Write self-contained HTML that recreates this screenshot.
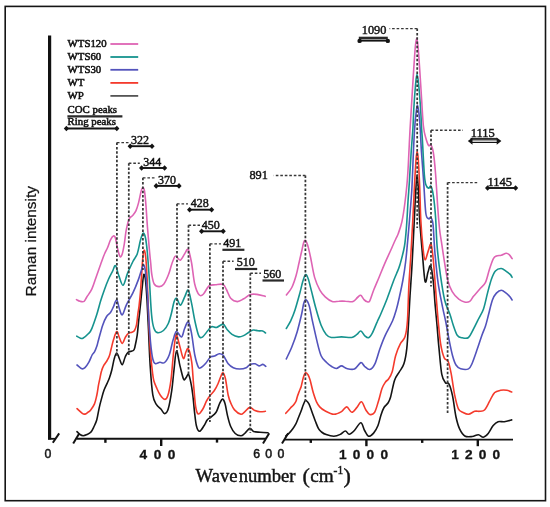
<!DOCTYPE html>
<html><head><meta charset="utf-8"><style>html,body{margin:0;padding:0;background:#fff;}svg{display:block;will-change:transform;filter:blur(0.3px);}.sr{font-family:"Liberation Serif",serif;fill:#141414;}.ss{font-family:"Liberation Sans",sans-serif;fill:#141414;}</style></head><body>
<svg width="550" height="507" viewBox="0 0 550 507">
<rect x="0" y="0" width="550" height="507" fill="#fff"/>
<rect x="5.2" y="6.4" width="540.3" height="494.3" fill="none" stroke="#151515" stroke-width="1.6"/>
<path d="M77.0,431.6C77.5,432.1 79.0,433.8 80.0,434.5C81.0,435.2 82.0,435.7 83.2,435.7C84.4,435.7 85.7,435.1 87.0,434.5C88.3,433.9 89.8,433.4 90.9,432.1C92.0,430.9 92.8,429.1 93.8,427.0C94.8,424.9 95.9,422.9 96.8,419.7C97.7,416.5 98.4,411.4 99.2,407.8C100.0,404.2 100.8,401.3 101.6,398.4C102.4,395.5 103.0,393.0 103.9,390.5C104.8,388.0 106.2,385.5 107.1,383.4C108.0,381.3 108.6,380.1 109.4,377.9C110.2,375.7 111.0,373.2 111.8,370.0C112.6,366.8 113.4,361.7 114.2,358.9C115.0,356.1 115.8,353.0 116.7,353.0C117.6,353.0 118.6,357.1 119.5,359.0C120.4,360.9 121.3,365.0 122.3,364.7C123.2,364.4 124.2,359.1 125.2,357.0C126.2,354.9 126.6,353.4 128.0,352.3C129.4,351.2 132.2,351.5 133.4,350.5C134.6,349.5 134.4,349.1 135.0,346.5C135.6,343.9 136.6,339.1 137.2,335.1C137.8,331.1 138.1,326.2 138.5,322.3C138.9,318.4 139.3,315.9 139.7,312.0C140.1,308.1 140.6,303.5 141.0,299.2C141.4,294.9 141.9,289.9 142.3,286.4C142.7,282.9 142.9,280.0 143.2,278.0C143.5,276.0 143.7,274.0 144.1,274.3C144.5,274.6 145.0,275.7 145.5,280.0C146.0,284.3 146.5,291.7 147.0,300.0C147.5,308.3 148.0,319.0 148.5,330.0C149.0,341.0 149.5,355.2 150.2,366.0C150.9,376.8 151.8,388.5 152.8,394.9C153.8,401.3 154.9,401.9 156.3,404.3C157.7,406.7 159.7,407.8 161.1,409.3C162.5,410.9 163.4,413.6 164.6,413.6C165.8,413.6 167.0,413.0 168.2,409.1C169.4,405.2 170.8,396.8 171.8,390.1C172.8,383.4 173.3,375.3 174.1,368.8C174.9,362.3 175.5,351.4 176.5,351.0C177.5,350.6 178.9,361.7 180.1,366.4C181.3,371.1 182.6,377.3 183.6,379.2C184.6,381.1 185.1,378.7 185.9,377.9C186.7,377.1 187.7,373.4 188.6,374.5C189.5,375.6 190.5,381.0 191.2,384.4C191.9,387.8 192.2,390.4 192.8,395.0C193.4,399.6 193.9,406.7 194.5,411.8C195.1,416.9 195.6,422.6 196.4,425.8C197.2,429.1 198.2,431.3 199.5,431.3C200.8,431.3 202.7,427.7 204.0,425.8C205.3,423.9 206.1,421.5 207.2,420.1C208.3,418.7 209.2,418.4 210.4,417.5C211.6,416.6 213.1,415.4 214.2,414.4C215.2,413.3 215.8,413.1 216.7,411.2C217.6,409.3 218.9,404.9 219.9,402.9C220.9,400.9 221.7,399.0 222.5,399.1C223.3,399.2 224.2,400.8 225.0,403.5C225.8,406.2 226.6,411.8 227.5,415.6C228.4,419.4 229.4,423.5 230.7,426.5C232.0,429.5 233.5,431.9 235.2,433.5C236.9,435.1 239.3,435.8 240.9,435.8C242.5,435.8 243.2,434.7 244.7,433.5C246.2,432.3 248.3,428.7 249.8,428.4C251.3,428.1 251.9,430.9 253.6,431.5C255.3,432.1 257.6,432.0 260.0,432.2C262.4,432.4 266.7,432.7 268.0,432.8" fill="none" stroke="#141414" stroke-width="1.6" stroke-linejoin="round" stroke-linecap="round"/>
<path d="M285.8,436.0C286.4,435.4 288.4,433.8 289.6,432.6C290.8,431.4 291.7,430.2 292.8,428.7C293.9,427.2 295.0,425.5 296.0,423.6C297.0,421.7 297.7,419.3 298.6,417.2C299.5,415.1 300.4,412.8 301.2,410.8C302.0,408.8 302.5,406.7 303.2,405.0C303.9,403.3 304.7,400.7 305.6,400.5C306.5,400.3 307.7,401.8 308.8,403.7C309.9,405.6 310.9,409.1 312.0,412.0C313.1,414.9 314.2,418.2 315.3,421.0C316.4,423.8 317.5,426.9 318.5,428.7C319.5,430.5 320.2,431.0 321.5,432.0C322.8,433.0 324.1,433.9 326.2,434.6C328.2,435.3 331.4,436.2 333.8,436.2C336.2,436.2 338.4,435.3 340.3,434.4C342.2,433.5 343.9,431.0 345.4,431.0C346.9,431.0 347.7,434.3 349.2,434.2C350.7,434.1 352.5,432.4 354.4,430.5C356.3,428.6 359.1,422.8 360.8,422.8C362.5,422.8 363.3,428.3 364.6,430.5C365.9,432.7 367.0,435.8 368.5,436.2C370.0,436.6 372.0,434.9 373.6,433.1C375.2,431.3 376.8,428.5 378.0,425.5C379.2,422.5 380.0,418.0 381.0,415.0C382.0,412.0 382.8,409.5 384.0,407.5C385.2,405.5 386.9,404.8 388.0,403.0C389.1,401.2 389.5,400.8 390.6,397.0C391.7,393.2 393.1,384.5 394.5,380.4C395.9,376.2 397.6,374.9 399.2,372.1C400.8,369.3 402.6,367.8 403.9,363.8C405.2,359.9 406.0,355.7 406.8,348.4C407.6,341.1 408.2,328.8 408.7,320.0C409.2,311.2 409.4,305.3 410.0,295.9C410.6,286.5 411.4,276.0 412.1,263.4C412.8,250.7 413.7,232.2 414.3,220.0C414.9,207.8 415.3,197.6 415.8,190.0C416.3,182.4 416.7,174.5 417.1,174.5C417.5,174.5 418.0,182.4 418.4,190.0C418.8,197.6 419.0,209.6 419.7,220.0C420.4,230.4 421.4,242.2 422.3,252.5C423.2,262.8 424.2,278.2 425.1,281.5C426.1,284.8 427.1,274.7 428.0,272.1C428.9,269.5 429.7,264.4 430.6,265.8C431.5,267.2 432.4,273.9 433.2,280.7C434.0,287.5 434.6,299.2 435.3,306.8C436.0,314.4 436.5,319.4 437.1,326.3C437.7,333.2 438.2,340.4 439.0,348.4C439.8,356.4 440.7,368.7 441.8,374.4C442.9,380.1 444.2,381.1 445.4,382.7C446.6,384.3 447.7,381.7 448.9,383.9C450.1,386.1 451.3,390.2 452.5,395.7C453.7,401.2 454.8,411.5 456.0,417.0C457.2,422.5 458.1,425.7 459.6,428.9C461.1,432.1 462.7,434.7 464.8,436.0C466.9,437.3 469.9,436.7 472.2,436.5C474.5,436.3 476.5,434.6 478.4,434.7C480.2,434.8 481.7,437.4 483.3,437.2C484.9,437.0 486.6,435.4 488.2,433.5C489.8,431.6 491.5,427.6 493.2,425.6C494.9,423.6 496.2,422.4 498.1,421.7C500.0,421.0 502.0,422.0 504.3,421.7C506.6,421.4 510.5,420.2 511.7,419.9" fill="none" stroke="#141414" stroke-width="1.6" stroke-linejoin="round" stroke-linecap="round"/>
<path d="M77.0,408.7C77.9,409.5 81.0,412.5 82.3,413.4C83.6,414.3 84.0,414.3 85.0,414.1C86.0,413.9 87.1,412.9 88.0,412.2C88.9,411.5 89.4,411.6 90.5,410.2C91.6,408.8 93.5,406.4 94.5,403.9C95.5,401.4 96.1,398.2 96.8,395.2C97.5,392.2 97.9,388.6 98.4,385.7C98.9,382.8 99.5,380.4 100.0,377.9C100.5,375.4 100.9,372.9 101.6,370.8C102.2,368.7 103.0,366.9 103.9,365.2C104.8,363.5 106.2,362.1 107.1,360.5C108.0,358.9 108.8,357.6 109.4,355.8C110.1,354.0 110.3,352.1 111.0,349.5C111.7,346.9 112.5,343.0 113.4,340.0C114.4,337.0 115.7,331.9 116.7,331.5C117.7,331.1 118.4,335.5 119.3,337.5C120.2,339.5 121.3,343.5 122.3,343.4C123.3,343.3 124.4,338.7 125.5,337.0C126.6,335.3 127.6,334.0 128.7,333.2C129.8,332.4 131.0,332.6 132.0,332.2C133.0,331.8 133.8,331.7 134.5,330.5C135.2,329.3 135.9,327.5 136.5,324.9C137.1,322.2 137.4,317.8 137.8,314.6C138.2,311.4 138.7,309.2 139.1,305.6C139.5,302.0 140.0,297.4 140.4,292.8C140.8,288.2 141.0,283.5 141.4,278.0C141.8,272.5 142.2,264.6 142.6,260.0C143.0,255.4 143.6,250.5 144.1,250.2C144.6,249.9 145.3,253.0 145.8,258.0C146.3,263.0 146.7,270.0 147.2,280.0C147.7,290.0 148.2,306.1 148.7,318.0C149.2,329.9 149.8,342.5 150.4,351.7C151.1,360.9 152.0,368.4 152.6,373.3C153.2,378.2 153.2,378.5 153.9,381.0C154.6,383.5 155.9,386.2 156.9,388.5C157.9,390.8 158.9,393.2 160.2,395.0C161.5,396.8 163.2,399.1 164.5,399.3C165.8,399.5 166.6,399.2 167.7,396.0C168.8,392.8 170.1,386.5 171.0,379.8C171.9,373.1 172.5,362.9 173.2,356.0C173.9,349.1 174.7,342.2 175.3,338.7C175.9,335.2 175.8,333.4 176.6,334.8C177.4,336.2 179.0,343.4 180.1,347.4C181.2,351.3 182.4,357.7 183.4,358.5C184.4,359.3 185.1,353.6 185.9,352.0C186.7,350.4 187.4,347.3 188.4,349.0C189.4,350.7 190.8,356.0 191.7,362.0C192.6,368.0 192.9,377.5 193.6,385.0C194.3,392.5 194.9,402.2 195.7,407.0C196.5,411.8 197.1,413.6 198.3,414.0C199.5,414.4 201.3,411.5 202.7,409.3C204.1,407.1 205.3,403.2 206.5,401.0C207.7,398.8 208.4,397.6 209.7,395.9C211.0,394.2 212.8,392.8 214.2,390.8C215.6,388.8 216.9,386.3 218.0,383.8C219.1,381.3 220.2,377.8 221.0,376.0C221.8,374.2 222.3,372.3 223.1,372.8C223.8,373.3 224.7,375.2 225.5,379.0C226.3,382.8 227.3,391.3 228.2,395.3C229.1,399.3 229.6,400.5 230.7,402.9C231.8,405.3 232.8,408.0 234.5,409.9C236.2,411.8 239.2,413.9 240.9,414.2C242.6,414.5 243.2,412.9 244.7,411.8C246.2,410.7 248.1,407.6 249.8,407.4C251.5,407.2 253.2,409.8 254.9,410.5C256.6,411.2 258.2,411.7 260.0,411.8C261.8,411.9 264.5,411.4 265.4,411.3" fill="none" stroke="#f43a2c" stroke-width="1.6" stroke-linejoin="round" stroke-linecap="round"/>
<path d="M285.8,413.3C286.6,412.4 289.0,409.6 290.3,408.2C291.6,406.8 292.6,406.2 293.5,405.0C294.4,403.8 295.4,402.6 296.0,401.2C296.6,399.8 296.8,398.3 297.3,396.7C297.8,395.1 298.6,393.2 299.2,391.5C299.8,389.8 300.5,388.6 301.2,386.4C301.9,384.1 302.5,380.3 303.2,378.0C303.9,375.7 304.8,373.3 305.6,372.8C306.4,372.3 307.2,373.6 308.0,374.8C308.8,376.0 309.2,377.0 310.1,380.0C311.0,383.0 312.2,389.2 313.3,392.8C314.4,396.4 315.4,399.5 316.5,401.8C317.6,404.1 318.3,405.4 319.7,406.9C321.1,408.4 322.5,409.6 324.9,410.8C327.2,412.0 331.0,414.2 333.8,414.3C336.6,414.4 339.4,412.8 341.5,411.6C343.6,410.4 345.0,406.8 346.7,406.9C348.4,407.0 350.1,412.2 351.8,412.3C353.5,412.4 355.3,409.1 356.9,407.4C358.5,405.6 360.0,401.4 361.5,401.8C363.0,402.2 364.5,407.9 365.9,410.0C367.3,412.1 368.3,414.0 369.7,414.4C371.1,414.8 373.0,414.7 374.5,412.5C376.0,410.3 377.2,405.0 378.5,401.0C379.8,397.0 380.8,391.7 382.0,388.5C383.2,385.3 384.4,383.6 385.5,382.0C386.6,380.4 387.4,380.6 388.5,379.0C389.6,377.4 390.9,376.0 392.1,372.1C393.3,368.2 394.3,360.2 395.7,355.5C397.1,350.8 398.8,346.8 400.4,343.7C402.0,340.6 403.9,340.6 405.1,336.6C406.3,332.7 406.9,328.6 407.5,320.0C408.1,311.4 408.3,296.4 408.9,285.1C409.5,273.9 410.4,263.4 411.0,252.5C411.6,241.7 412.2,231.2 412.8,220.0C413.4,208.8 414.0,195.0 414.5,185.0C415.0,175.0 415.6,165.6 416.0,160.0C416.4,154.4 416.7,151.5 417.1,151.5C417.5,151.5 417.9,153.6 418.3,160.0C418.8,166.4 419.4,180.0 419.8,190.0C420.2,200.0 420.3,210.3 420.8,220.0C421.3,229.7 422.3,241.6 423.0,248.2C423.7,254.8 424.2,259.4 425.1,259.8C426.0,260.2 427.4,253.0 428.4,250.4C429.4,247.8 430.2,242.6 431.0,244.0C431.8,245.4 432.5,252.2 433.2,259.0C433.9,265.9 434.5,274.9 435.3,285.1C436.1,295.3 437.2,310.2 438.1,320.0C439.0,329.8 439.6,337.4 440.6,343.7C441.6,350.0 442.9,354.9 444.2,357.9C445.5,360.9 447.0,358.8 448.2,361.5C449.4,364.2 450.2,368.7 451.3,374.4C452.4,380.1 453.6,390.0 454.8,395.7C456.0,401.4 457.0,406.0 458.4,408.8C459.8,411.6 461.4,411.6 463.1,412.5C464.8,413.4 466.6,414.5 468.5,414.3C470.4,414.1 472.8,411.8 474.7,411.3C476.6,410.8 478.0,411.5 479.6,411.3C481.2,411.1 482.9,411.6 484.5,410.0C486.1,408.4 487.9,404.3 489.5,401.4C491.1,398.5 492.5,394.6 494.4,392.8C496.2,391.0 498.6,390.7 500.6,390.3C502.7,389.9 504.9,390.0 506.7,390.3C508.5,390.6 510.9,391.7 511.7,392.0" fill="none" stroke="#f43a2c" stroke-width="1.6" stroke-linejoin="round" stroke-linecap="round"/>
<path d="M77.0,365.0C77.8,365.6 80.6,368.4 81.9,368.8C83.2,369.2 83.8,368.7 85.0,367.6C86.2,366.5 87.7,364.2 88.9,362.1C90.1,360.0 91.2,356.7 92.1,355.0C93.0,353.3 93.7,353.2 94.5,351.8C95.3,350.4 96.1,348.4 96.8,346.3C97.5,344.2 97.7,342.7 98.7,339.2C99.7,335.7 101.3,329.2 102.6,325.4C103.9,321.6 105.3,318.6 106.6,316.5C107.9,314.4 109.3,314.1 110.5,312.5C111.7,310.9 112.5,308.7 113.5,306.6C114.5,304.5 115.7,299.5 116.7,299.8C117.7,300.1 118.4,306.0 119.3,308.5C120.2,311.0 121.1,315.4 122.3,314.8C123.5,314.2 124.6,308.5 126.4,304.8C128.2,301.1 130.9,297.0 132.9,292.9C134.9,288.8 136.9,283.7 138.3,279.9C139.7,276.1 140.6,272.5 141.5,270.0C142.4,267.5 143.0,264.4 143.7,264.7C144.4,265.0 144.9,267.4 145.5,272.0C146.1,276.6 146.7,283.7 147.3,292.0C147.9,300.3 148.4,313.5 149.0,322.0C149.6,330.5 150.0,336.8 150.6,343.0C151.2,349.2 152.0,355.6 152.8,359.0C153.6,362.4 154.0,363.1 155.2,363.6C156.4,364.2 158.3,362.5 159.9,362.3C161.5,362.1 163.0,363.8 164.6,362.5C166.2,361.2 168.0,358.2 169.4,354.5C170.8,350.8 171.8,344.1 173.0,340.3C174.2,336.5 175.0,332.1 176.4,331.5C177.8,330.9 180.1,337.5 181.5,337.0C182.9,336.5 183.5,331.0 184.6,328.5C185.7,326.0 187.2,321.2 188.3,322.0C189.5,322.8 190.4,327.5 191.5,333.1C192.6,338.7 193.7,349.8 194.9,355.5C196.1,361.2 197.4,365.4 198.5,367.3C199.6,369.2 200.3,367.9 201.5,367.2C202.7,366.5 204.3,364.9 205.8,363.2C207.3,361.5 209.1,358.2 210.5,357.0C211.9,355.8 213.1,356.7 214.5,356.1C215.9,355.6 217.8,353.8 219.2,353.7C220.6,353.6 221.7,353.6 223.2,355.3C224.7,357.0 226.5,361.7 228.2,363.8C229.9,365.9 231.4,366.8 233.3,367.7C235.2,368.6 237.5,369.0 239.7,369.0C241.8,369.0 244.5,368.5 246.2,367.7C247.9,366.9 248.5,365.0 250.0,364.4C251.5,363.8 253.6,363.6 255.1,363.8C256.6,364.1 257.7,365.8 259.0,365.9C260.3,366.0 261.7,364.3 262.8,364.4C263.9,364.5 265.3,366.1 265.8,366.4" fill="none" stroke="#5353bc" stroke-width="1.6" stroke-linejoin="round" stroke-linecap="round"/>
<path d="M286.3,358.9C287.2,356.9 290.0,351.5 291.8,347.0C293.6,342.5 295.6,337.1 297.2,331.7C298.8,326.2 300.5,319.0 301.6,314.3C302.7,309.6 303.0,305.9 303.7,303.5C304.4,301.1 305.0,299.4 305.9,299.8C306.8,300.2 308.1,302.2 309.2,305.7C310.3,309.2 311.1,315.1 312.4,320.9C313.7,326.7 315.4,334.6 316.8,340.4C318.2,346.2 319.5,352.0 321.1,355.7C322.7,359.4 324.8,360.6 326.6,362.5C328.4,364.4 330.4,365.8 332.0,366.8C333.6,367.8 334.8,368.6 336.4,368.5C338.0,368.4 339.8,365.9 341.5,365.9C343.2,365.9 344.6,368.0 346.7,368.5C348.8,369.0 352.0,370.0 354.4,369.0C356.8,368.0 359.1,363.0 360.8,362.6C362.5,362.2 363.1,365.2 364.6,366.4C366.1,367.5 368.0,369.9 369.7,369.5C371.4,369.1 373.2,367.3 374.9,363.8C376.6,360.3 378.3,353.2 380.0,348.5C381.7,343.8 383.0,340.2 385.1,335.6C387.2,331.0 390.6,325.4 392.5,321.0C394.4,316.6 395.3,313.1 396.5,309.0C397.7,304.9 398.4,301.4 399.5,296.5C400.6,291.6 402.0,285.2 403.0,279.5C404.0,273.8 404.9,267.8 405.6,262.0C406.3,256.2 406.7,252.0 407.3,245.0C407.9,238.0 408.8,229.2 409.5,220.0C410.2,210.8 411.1,201.7 411.8,190.0C412.5,178.3 413.0,160.3 413.5,150.0C414.0,139.7 414.2,134.3 414.7,128.0C415.1,121.7 415.7,115.8 416.2,112.0C416.7,108.2 417.1,105.1 417.5,105.3C417.9,105.5 418.4,109.2 418.9,113.0C419.3,116.8 419.8,121.4 420.2,128.0C420.6,134.6 420.9,143.7 421.5,152.5C422.1,161.3 422.9,170.6 423.6,180.7C424.3,190.8 425.0,206.7 425.8,213.0C426.6,219.3 427.8,217.9 428.6,218.7C429.4,219.5 430.1,216.7 430.8,217.6C431.5,218.5 432.3,218.3 433.0,224.1C433.7,229.9 434.0,242.7 434.9,252.5C435.8,262.3 436.8,273.8 438.1,282.9C439.4,291.9 441.2,300.3 442.5,306.8C443.8,313.3 444.7,316.6 445.8,322.0C446.9,327.4 447.8,333.3 448.9,338.9C450.0,344.5 451.3,351.1 452.5,355.5C453.7,359.9 454.6,362.8 456.0,365.0C457.4,367.2 458.6,368.2 460.7,368.8C462.8,369.4 466.6,369.8 468.5,368.9C470.4,368.0 470.8,366.4 472.2,363.2C473.6,360.0 475.5,354.3 477.1,349.6C478.8,344.9 480.7,338.7 482.1,334.8C483.5,330.9 484.4,329.3 485.5,326.0C486.6,322.7 487.4,319.1 488.5,314.8C489.6,310.5 491.1,303.6 492.4,300.0C493.7,296.4 494.9,294.7 496.4,293.1C497.9,291.5 499.7,290.2 501.3,290.2C502.9,290.2 504.7,292.0 506.2,293.1C507.7,294.2 509.2,296.0 510.2,297.1C511.2,298.2 511.8,299.5 512.1,300.0" fill="none" stroke="#5353bc" stroke-width="1.6" stroke-linejoin="round" stroke-linecap="round"/>
<path d="M76.8,336.2C77.3,336.5 79.0,337.6 80.0,337.9C81.0,338.2 81.4,339.0 82.9,338.2C84.4,337.4 87.3,334.9 88.8,333.3C90.3,331.7 90.5,331.7 91.8,328.6C93.1,325.5 95.2,319.4 96.7,314.8C98.2,310.2 99.3,305.3 100.6,301.0C101.9,296.7 103.3,292.8 104.6,289.2C105.9,285.6 107.2,282.3 108.5,279.3C109.8,276.3 111.3,273.7 112.5,271.4C113.7,269.1 114.5,264.9 115.5,265.6C116.5,266.3 117.5,272.3 118.8,275.6C120.1,278.9 121.6,285.7 123.1,285.3C124.5,284.9 125.9,277.4 127.5,273.4C129.1,269.4 131.3,264.8 132.9,261.5C134.5,258.2 135.9,257.5 137.2,253.9C138.5,250.3 139.5,243.5 140.5,240.0C141.5,236.5 142.5,233.3 143.3,233.0C144.1,232.7 144.8,234.8 145.5,238.0C146.2,241.2 146.6,244.7 147.3,252.0C148.0,259.3 148.8,271.5 149.5,282.0C150.2,292.5 150.8,307.2 151.6,315.0C152.3,322.8 153.0,325.6 154.0,328.5C155.0,331.4 155.9,332.3 157.5,332.6C159.1,332.9 161.7,332.0 163.5,330.5C165.3,329.0 167.0,326.4 168.3,323.5C169.6,320.6 170.6,316.6 171.5,313.0C172.4,309.4 173.2,304.4 174.0,302.0C174.8,299.6 175.5,297.8 176.6,298.3C177.7,298.8 179.1,305.4 180.5,305.1C181.9,304.8 183.6,298.9 184.9,296.4C186.2,293.9 187.1,289.2 188.2,290.3C189.3,291.4 190.4,297.7 191.5,302.9C192.6,308.1 193.8,316.1 195.0,321.5C196.2,326.9 197.5,333.0 198.7,335.6C199.9,338.2 200.9,337.9 202.4,337.1C203.9,336.3 206.2,332.5 207.7,330.8C209.2,329.1 210.0,327.3 211.5,326.7C213.0,326.1 214.8,327.8 216.7,327.4C218.6,327.0 221.4,323.8 223.1,324.1C224.8,324.4 225.4,327.5 226.9,329.2C228.4,330.9 230.1,333.1 232.0,334.4C233.9,335.7 236.6,336.7 238.5,336.9C240.4,337.1 241.7,336.5 243.6,335.6C245.5,334.7 248.3,332.4 250.0,331.5C251.7,330.6 252.2,330.1 253.5,330.0C254.8,329.9 256.4,330.6 258.0,330.8C259.6,331.0 261.6,330.6 262.8,331.0C264.1,331.4 265.1,332.7 265.5,333.0" fill="none" stroke="#16938e" stroke-width="1.6" stroke-linejoin="round" stroke-linecap="round"/>
<path d="M286.3,328.5C287.0,327.2 289.2,324.0 290.7,320.9C292.1,317.8 293.6,314.4 295.0,310.0C296.4,305.6 298.1,299.5 299.4,294.8C300.7,290.1 301.7,285.1 302.7,281.7C303.7,278.3 304.6,275.1 305.5,274.6C306.4,274.1 307.1,275.9 308.1,278.5C309.1,281.1 310.0,285.5 311.3,290.4C312.6,295.3 314.1,302.0 315.7,307.8C317.3,313.6 319.4,320.8 321.1,325.2C322.9,329.6 324.5,332.3 326.2,334.4C327.9,336.4 328.8,337.1 331.3,337.5C333.9,337.9 338.1,336.9 341.5,336.9C344.9,336.9 349.2,337.9 351.8,337.5C354.4,337.1 355.4,335.5 356.9,334.4C358.4,333.3 359.5,330.8 360.8,331.0C362.1,331.2 363.3,334.5 364.6,335.6C365.9,336.7 367.2,338.1 368.5,337.7C369.8,337.3 370.8,335.8 372.3,333.1C373.8,330.4 375.9,324.6 377.4,321.3C378.8,318.0 379.4,317.2 381.0,313.5C382.6,309.8 384.9,304.4 387.0,299.0C389.1,293.6 391.9,285.2 393.5,281.0C395.1,276.8 395.4,276.4 396.5,273.7C397.6,270.9 398.7,269.1 400.0,264.5C401.3,259.9 403.4,252.6 404.5,246.0C405.6,239.4 406.0,232.7 406.6,225.0C407.2,217.3 407.6,207.5 408.1,200.0C408.6,192.5 409.0,188.3 409.5,180.0C410.0,171.7 410.7,158.6 411.3,150.0C411.9,141.4 412.5,135.4 412.9,128.6C413.3,121.8 413.4,116.4 413.8,109.0C414.2,101.6 415.1,89.8 415.6,84.0C416.1,78.2 416.5,74.4 417.0,74.4C417.5,74.4 418.0,78.2 418.6,84.0C419.2,89.8 420.1,101.5 420.6,108.9C421.1,116.3 421.3,123.1 421.6,128.6C421.9,134.1 422.1,134.1 422.5,141.7C422.9,149.3 423.8,167.1 424.3,174.2C424.9,181.3 425.1,182.2 425.8,184.5C426.5,186.8 427.7,188.0 428.6,188.3C429.5,188.6 430.2,184.9 431.0,186.2C431.8,187.5 432.6,190.7 433.4,195.9C434.2,201.1 435.0,209.2 435.6,217.6C436.2,225.9 436.3,236.6 437.1,246.0C437.9,255.4 439.0,265.1 440.3,274.2C441.6,283.2 443.1,293.6 444.7,300.3C446.3,307.0 448.6,310.4 450.0,314.5C451.4,318.6 452.0,321.5 453.2,325.0C454.4,328.5 455.9,333.4 457.4,335.5C458.9,337.6 460.4,337.5 462.3,337.8C464.2,338.1 466.7,338.8 468.5,337.5C470.3,336.2 471.3,333.1 473.0,330.0C474.7,326.9 476.8,322.5 478.5,319.0C480.2,315.5 482.0,313.2 483.5,308.9C485.0,304.6 486.2,298.0 487.5,293.1C488.8,288.2 490.1,283.0 491.4,279.3C492.7,275.6 493.8,272.8 495.4,271.0C497.0,269.2 499.5,268.4 501.3,268.5C503.1,268.6 504.7,270.4 506.2,271.4C507.7,272.4 509.2,273.4 510.2,274.4C511.2,275.4 511.8,276.8 512.1,277.3" fill="none" stroke="#16938e" stroke-width="1.6" stroke-linejoin="round" stroke-linecap="round"/>
<path d="M76.5,299.6C77.1,299.9 78.7,301.0 80.0,301.3C81.3,301.6 83.0,302.1 84.1,301.4C85.2,300.7 85.5,299.0 86.8,297.0C88.1,295.0 90.1,292.8 91.8,289.2C93.5,285.6 95.2,279.5 96.7,275.4C98.2,271.3 99.3,268.1 100.6,264.5C101.9,260.9 103.4,256.5 104.6,253.7C105.8,250.9 106.5,250.1 107.5,247.8C108.5,245.5 109.5,241.9 110.5,239.9C111.5,237.9 112.6,236.3 113.4,236.0C114.2,235.7 114.7,236.0 115.4,238.0C116.1,240.0 116.6,244.7 117.4,247.8C118.2,250.9 119.2,255.6 120.0,256.6C120.8,257.6 121.6,255.8 122.3,253.7C123.0,251.6 123.6,247.7 124.3,243.8C125.0,239.9 125.4,234.3 126.2,230.2C127.0,226.1 128.0,221.6 129.0,219.2C130.0,216.8 131.2,217.1 132.4,215.7C133.6,214.3 134.9,213.1 135.9,210.9C136.9,208.7 137.8,205.6 138.6,202.6C139.4,199.6 140.1,195.5 140.7,193.0C141.3,190.5 141.8,188.2 142.4,187.8C143.0,187.4 143.8,187.5 144.4,190.5C145.0,193.5 145.5,199.6 146.0,206.0C146.5,212.4 147.0,221.5 147.6,229.0C148.2,236.5 149.0,245.3 149.5,251.0C150.0,256.7 150.3,259.1 150.7,263.0C151.1,266.9 151.2,271.0 151.8,274.5C152.4,278.0 153.0,282.0 154.2,284.0C155.4,286.0 157.4,286.6 159.0,286.6C160.6,286.7 162.1,286.3 163.7,284.3C165.3,282.3 167.2,277.8 168.4,274.8C169.6,271.8 170.2,269.1 171.0,266.5C171.8,263.9 172.7,261.2 173.5,259.5C174.3,257.8 174.5,255.9 175.6,256.0C176.7,256.1 178.8,260.6 180.3,260.2C181.8,259.8 183.4,255.6 184.7,253.8C186.0,252.0 187.1,248.1 188.2,249.5C189.3,250.9 190.4,256.8 191.5,262.5C192.6,268.2 193.4,278.6 194.7,284.0C196.0,289.4 197.6,293.1 199.1,294.8C200.6,296.5 201.9,295.5 203.5,294.0C205.1,292.5 206.9,287.5 208.9,286.0C210.9,284.5 213.1,285.1 215.5,284.8C217.9,284.5 221.3,283.6 223.1,284.4C224.9,285.2 225.1,287.2 226.4,289.5C227.7,291.8 228.9,296.2 230.7,298.2C232.5,300.2 235.1,301.5 237.3,301.6C239.5,301.7 241.6,300.0 243.8,298.8C246.0,297.6 248.2,295.2 250.4,294.5C252.6,293.8 254.4,294.1 256.9,294.4C259.4,294.7 263.8,296.1 265.2,296.4" fill="none" stroke="#de64b4" stroke-width="1.6" stroke-linejoin="round" stroke-linecap="round"/>
<path d="M286.4,294.9C287.3,293.7 290.2,290.7 291.8,287.5C293.4,284.3 294.9,279.6 296.1,275.5C297.3,271.4 298.1,266.9 299.0,263.0C299.9,259.1 300.6,255.7 301.5,252.0C302.4,248.3 303.4,242.1 304.4,240.8C305.4,239.5 306.3,241.3 307.3,244.0C308.3,246.7 309.3,251.4 310.5,257.0C311.7,262.6 313.0,271.8 314.6,277.4C316.2,283.0 318.2,287.1 320.0,290.4C321.8,293.7 323.5,295.3 325.5,297.2C327.5,299.1 330.0,300.8 332.2,301.5C334.4,302.2 336.7,301.2 338.9,301.2C341.1,301.1 343.1,301.1 345.5,301.2C347.9,301.2 351.1,302.1 353.1,301.5C355.1,300.9 356.2,298.5 357.5,297.5C358.8,296.5 359.6,294.9 360.7,295.3C361.8,295.7 362.9,298.5 364.0,299.6C365.1,300.7 366.3,301.6 367.3,301.8C368.3,302.0 368.7,302.8 369.8,300.8C370.9,298.8 372.2,293.8 373.8,289.8C375.4,285.8 377.5,281.1 379.3,276.7C381.1,272.3 382.7,268.2 384.7,263.6C386.7,259.0 389.4,253.3 391.3,249.0C393.2,244.7 395.0,240.6 396.2,238.0C397.4,235.4 397.3,236.3 398.3,233.5C399.3,230.7 400.9,226.4 402.0,221.3C403.1,216.2 404.1,209.1 404.9,203.0C405.7,196.9 406.3,191.3 406.9,185.0C407.5,178.7 407.8,174.2 408.3,165.0C408.8,155.8 409.4,141.0 410.0,130.0C410.6,119.0 411.3,109.1 411.9,99.0C412.5,88.9 413.1,78.2 413.7,69.4C414.3,60.6 414.9,51.2 415.4,46.0C415.9,40.8 416.3,38.2 416.7,38.2C417.1,38.2 417.5,40.8 418.0,46.0C418.5,51.2 419.1,60.6 419.7,69.4C420.3,78.2 421.0,89.6 421.6,99.0C422.2,108.4 422.7,119.5 423.4,126.0C424.1,132.5 424.9,134.8 425.8,138.0C426.7,141.2 427.7,144.3 428.6,145.5C429.5,146.7 430.2,143.8 431.0,145.0C431.8,146.2 432.6,148.1 433.4,153.0C434.2,157.9 434.9,165.2 435.6,174.2C436.3,183.2 437.1,197.8 437.7,206.8C438.3,215.9 438.9,222.7 439.5,228.5C440.1,234.3 440.5,235.9 441.4,241.7C442.3,247.5 443.6,256.9 444.7,263.4C445.8,269.9 446.6,276.0 447.9,280.7C449.1,285.4 450.4,288.5 452.2,291.6C454.0,294.7 456.8,297.5 458.8,299.2C460.9,300.9 462.7,301.6 464.5,302.0C466.3,302.4 468.2,302.4 469.7,301.4C471.2,300.4 472.0,298.1 473.7,296.1C475.4,294.1 477.6,291.5 479.6,289.2C481.6,286.9 483.9,285.6 485.5,282.3C487.1,279.0 488.1,273.3 489.4,269.4C490.7,265.4 492.2,260.8 493.4,258.6C494.6,256.4 495.1,256.6 496.4,256.0C497.7,255.4 499.7,255.6 501.3,255.2C502.9,254.8 504.9,253.4 506.2,253.3C507.5,253.2 508.2,253.8 509.2,254.7C510.2,255.6 511.6,258.0 512.1,258.6" fill="none" stroke="#de64b4" stroke-width="1.6" stroke-linejoin="round" stroke-linecap="round"/>
<g stroke="#383838" stroke-width="1.75" stroke-dasharray="2.5 1.8" fill="none"><line x1="116.9" y1="142.6" x2="116.9" y2="356.0"/><line x1="128.8" y1="163.2" x2="128.8" y2="356.5"/><line x1="142.9" y1="177.8" x2="142.9" y2="270.0"/><line x1="177.0" y1="203.8" x2="177.0" y2="353.0"/><line x1="188.5" y1="225.2" x2="188.5" y2="376.0"/><line x1="209.9" y1="243.8" x2="209.9" y2="422.0"/><line x1="223.0" y1="261.2" x2="223.0" y2="399.0"/><line x1="250.3" y1="273.2" x2="250.3" y2="433.0"/><line x1="305.4" y1="175.5" x2="305.4" y2="401.0"/><line x1="417.2" y1="28.6" x2="417.2" y2="228.0"/><line x1="431.0" y1="130.2" x2="431.0" y2="286.5"/><line x1="447.6" y1="182.6" x2="447.6" y2="413.5"/></g>
<g stroke="#383838" stroke-width="1.35" stroke-dasharray="2.6 1.9" fill="none"><line x1="116.9" y1="142.6" x2="128.5" y2="142.6"/><line x1="128.8" y1="163.2" x2="139.8" y2="163.2"/><line x1="142.9" y1="177.8" x2="154.5" y2="177.8"/><line x1="177.0" y1="203.8" x2="188.0" y2="203.8"/><line x1="188.5" y1="225.2" x2="200.0" y2="225.2"/><line x1="209.9" y1="243.8" x2="221.0" y2="243.8"/><line x1="223.0" y1="261.2" x2="233.6" y2="261.2"/><line x1="250.3" y1="273.2" x2="261.0" y2="273.2"/><line x1="305.4" y1="175.5" x2="273.7" y2="175.5"/><line x1="417.2" y1="28.6" x2="389.5" y2="28.6"/><line x1="431.0" y1="130.2" x2="463.0" y2="130.2"/><line x1="447.6" y1="182.6" x2="479.0" y2="182.6"/></g>
<g stroke="#111" fill="none" stroke-linecap="butt">
<line x1="49.6" y1="35.4" x2="49.6" y2="439.6" stroke-width="3.2"/>
<line x1="48" y1="438.8" x2="55.5" y2="438.8" stroke-width="1.8"/>
<line x1="52.8" y1="442.8" x2="59.2" y2="433.4" stroke-width="2"/>
<line x1="73.2" y1="443.6" x2="79.2" y2="433.6" stroke-width="2"/>
<line x1="76.5" y1="438.8" x2="266" y2="438.8" stroke-width="1.9"/>
<line x1="263" y1="443.5" x2="269.2" y2="433.2" stroke-width="2"/>
<line x1="282" y1="443.5" x2="288.2" y2="433.2" stroke-width="2"/>
<line x1="284.5" y1="439.6" x2="513" y2="439.6" stroke-width="1.9"/>
<line x1="105.4" y1="438.8" x2="105.4" y2="442.8" stroke-width="2.4"/>
<line x1="161.2" y1="438.8" x2="161.2" y2="446.0" stroke-width="2.4"/>
<line x1="217.0" y1="438.8" x2="217.0" y2="442.6" stroke-width="2.4"/>
<line x1="310.8" y1="439.6" x2="310.8" y2="442.9" stroke-width="2.4"/>
<line x1="366.4" y1="439.6" x2="366.4" y2="446.2" stroke-width="2.4"/>
<line x1="422.2" y1="439.6" x2="422.2" y2="442.9" stroke-width="2.4"/>
<line x1="477.8" y1="439.6" x2="477.8" y2="446.2" stroke-width="2.4"/>
</g>
<text class="ss" x="44.6" y="457.8" font-size="12.3" stroke="#141414" stroke-width="0.45">0</text>
<text class="ss" font-size="12.2" font-weight="bold" letter-spacing="5.80" stroke="#141414" stroke-width="0.3" transform="translate(139.6,459.1) scale(1.12,1)">400</text>
<text class="ss" x="253.2" y="458.3" font-size="12.3" letter-spacing="5.3" stroke="#141414" stroke-width="0.5">600</text>
<text class="ss" font-size="12.2" font-weight="bold" letter-spacing="5.55" stroke="#141414" stroke-width="0.3" transform="translate(339.0,459.1) scale(1.12,1)">1000</text>
<text class="ss" font-size="12.2" font-weight="bold" letter-spacing="5.55" stroke="#141414" stroke-width="0.3" transform="translate(451.2,459.1) scale(1.12,1)">1200</text>
<g class="sr" stroke="#141414" stroke-width="0.45"><text x="195.6" y="481.8" font-size="18.6">Wave<tspan dx="1.2">number</tspan></text><text x="302.6" y="482.6" font-size="22">(</text><text x="310.2" y="482.2" font-size="19.2">cm</text><text x="333.6" y="474" font-size="11.5">-1</text><text x="343.4" y="482.6" font-size="22">)</text></g>
<text class="ss" font-size="15.4" stroke="#141414" stroke-width="0.25" transform="translate(36.4,296.4) rotate(-90)">Raman intensity</text>
<text class="sr" x="67.6" y="47.1" font-size="10.8" stroke="#141414" stroke-width="0.55">WTS120</text>
<line x1="110.4" y1="44.0" x2="138.2" y2="44.0" stroke="#de64b4" stroke-width="1.8"/>
<text class="sr" x="67.6" y="60.1" font-size="10.8" stroke="#141414" stroke-width="0.55">WTS60</text>
<line x1="110.4" y1="57.0" x2="138.2" y2="57.0" stroke="#16938e" stroke-width="1.8"/>
<text class="sr" x="67.6" y="72.9" font-size="10.8" stroke="#141414" stroke-width="0.55">WTS30</text>
<line x1="110.4" y1="69.8" x2="138.2" y2="69.8" stroke="#5353bc" stroke-width="1.8"/>
<text class="sr" x="67.6" y="86.1" font-size="10.8" stroke="#141414" stroke-width="0.55">WT</text>
<line x1="110.4" y1="82.9" x2="138.2" y2="82.9" stroke="#f43a2c" stroke-width="1.8"/>
<text class="sr" x="67.6" y="99.2" font-size="10.8" stroke="#141414" stroke-width="0.55">WP</text>
<line x1="110.4" y1="95.9" x2="138.2" y2="95.9" stroke="#555" stroke-width="1.8"/>
<text class="sr" x="67.6" y="112.6" font-size="10.8" stroke="#141414" stroke-width="0.55">COC peaks</text>
<line x1="67.4" y1="116.4" x2="122.4" y2="116.4" stroke="#2a2a2a" stroke-width="2.4"/>
<text class="sr" x="67.6" y="125.4" font-size="10.8" stroke="#141414" stroke-width="0.55">Ring peaks</text>
<line x1="65.8" y1="128.5" x2="117.4" y2="128.5" stroke="#141414" stroke-width="1.9"/><path d="M63.8,128.5 L66.4,125.7 L69.0,128.5 L66.4,131.3Z" fill="#141414"/><path d="M119.4,128.5 L116.8,125.7 L114.2,128.5 L116.8,131.3Z" fill="#141414"/>
<text class="sr" x="131.0" y="143.8" font-size="12.0" stroke="#141414" stroke-width="0.45">322</text>
<line x1="129.6" y1="146.2" x2="152.6" y2="146.2" stroke="#141414" stroke-width="1.9"/><path d="M127.6,146.2 L130.2,143.4 L132.8,146.2 L130.2,149.0Z" fill="#141414"/><path d="M154.6,146.2 L152.0,143.4 L149.4,146.2 L152.0,149.0Z" fill="#141414"/>
<text class="sr" x="143.3" y="165.6" font-size="12.0" stroke="#141414" stroke-width="0.45">344</text>
<line x1="141.0" y1="168.0" x2="165.2" y2="168.0" stroke="#141414" stroke-width="1.9"/><path d="M139.0,168.0 L141.6,165.2 L144.2,168.0 L141.6,170.8Z" fill="#141414"/><path d="M167.2,168.0 L164.6,165.2 L162.0,168.0 L164.6,170.8Z" fill="#141414"/>
<text class="sr" x="158.0" y="183.8" font-size="12.0" stroke="#141414" stroke-width="0.45">370</text>
<line x1="155.6" y1="185.9" x2="179.6" y2="185.9" stroke="#141414" stroke-width="1.9"/><path d="M153.6,185.9 L156.2,183.1 L158.8,185.9 L156.2,188.7Z" fill="#141414"/><path d="M181.6,185.9 L179.0,183.1 L176.4,185.9 L179.0,188.7Z" fill="#141414"/>
<text class="sr" x="190.7" y="207.2" font-size="12.0" stroke="#141414" stroke-width="0.45">428</text>
<line x1="189.0" y1="209.7" x2="212.2" y2="209.7" stroke="#141414" stroke-width="1.9"/><path d="M187.0,209.7 L189.6,206.9 L192.2,209.7 L189.6,212.5Z" fill="#141414"/><path d="M214.2,209.7 L211.6,206.9 L209.0,209.7 L211.6,212.5Z" fill="#141414"/>
<text class="sr" x="201.8" y="228.6" font-size="12.0" stroke="#141414" stroke-width="0.45">450</text>
<line x1="201.0" y1="231.3" x2="223.8" y2="231.3" stroke="#141414" stroke-width="1.9"/><path d="M199.0,231.3 L201.6,228.5 L204.2,231.3 L201.6,234.1Z" fill="#141414"/><path d="M225.8,231.3 L223.2,228.5 L220.6,231.3 L223.2,234.1Z" fill="#141414"/>
<text class="sr" x="223.3" y="247.2" font-size="12.0" stroke="#141414" stroke-width="0.45">491</text>
<line x1="222.4" y1="249.8" x2="244.4" y2="249.8" stroke="#2a2a2a" stroke-width="2.2"/>
<text class="sr" x="236.7" y="266.3" font-size="12.0" stroke="#141414" stroke-width="0.45">510</text>
<line x1="235.0" y1="269.0" x2="257.2" y2="269.0" stroke="#2a2a2a" stroke-width="2.2"/>
<text class="sr" x="263.3" y="277.8" font-size="12.0" stroke="#141414" stroke-width="0.45">560</text>
<line x1="262.5" y1="280.5" x2="284.0" y2="280.5" stroke="#2a2a2a" stroke-width="2.2"/>
<text class="sr" x="249.4" y="179.1" font-size="12.3" stroke="#141414" stroke-width="0.45">891</text>
<text class="sr" x="361.8" y="34.2" font-size="12.3" stroke="#141414" stroke-width="0.45">1090</text>
<line x1="358.8" y1="38.1" x2="387.8" y2="38.1" stroke="#2a2a2a" stroke-width="2.8"/>
<line x1="359.5" y1="40.8" x2="387.8" y2="40.8" stroke="#141414" stroke-width="1.6"/>
<circle cx="359.6" cy="40.9" r="2.2" fill="#141414"/><circle cx="387.8" cy="40.9" r="2.2" fill="#141414"/>
<text class="sr" x="470.8" y="137.4" font-size="12.5" stroke="#141414" stroke-width="0.45">1115</text>
<line x1="470.5" y1="138.4" x2="497" y2="138.4" stroke="#141414" stroke-width="1"/>
<line x1="471" y1="139.8" x2="498" y2="139.8" stroke="#141414" stroke-width="1.2"/>
<line x1="471" y1="142.4" x2="498" y2="142.4" stroke="#141414" stroke-width="1.2"/>
<path d="M467.8,141.1 L472.5,137.4 L472.5,144.8Z M501.4,141.1 L496.7,137.4 L496.7,144.8Z" fill="#141414"/>
<text class="sr" x="487.5" y="185.9" font-size="12.5" stroke="#141414" stroke-width="0.45">1145</text>
<line x1="487.0" y1="188.0" x2="516.2" y2="188.0" stroke="#141414" stroke-width="1.9"/><path d="M485.0,188.0 L487.6,185.2 L490.2,188.0 L487.6,190.8Z" fill="#141414"/><path d="M518.2,188.0 L515.6,185.2 L513.0,188.0 L515.6,190.8Z" fill="#141414"/>
</svg></body></html>
